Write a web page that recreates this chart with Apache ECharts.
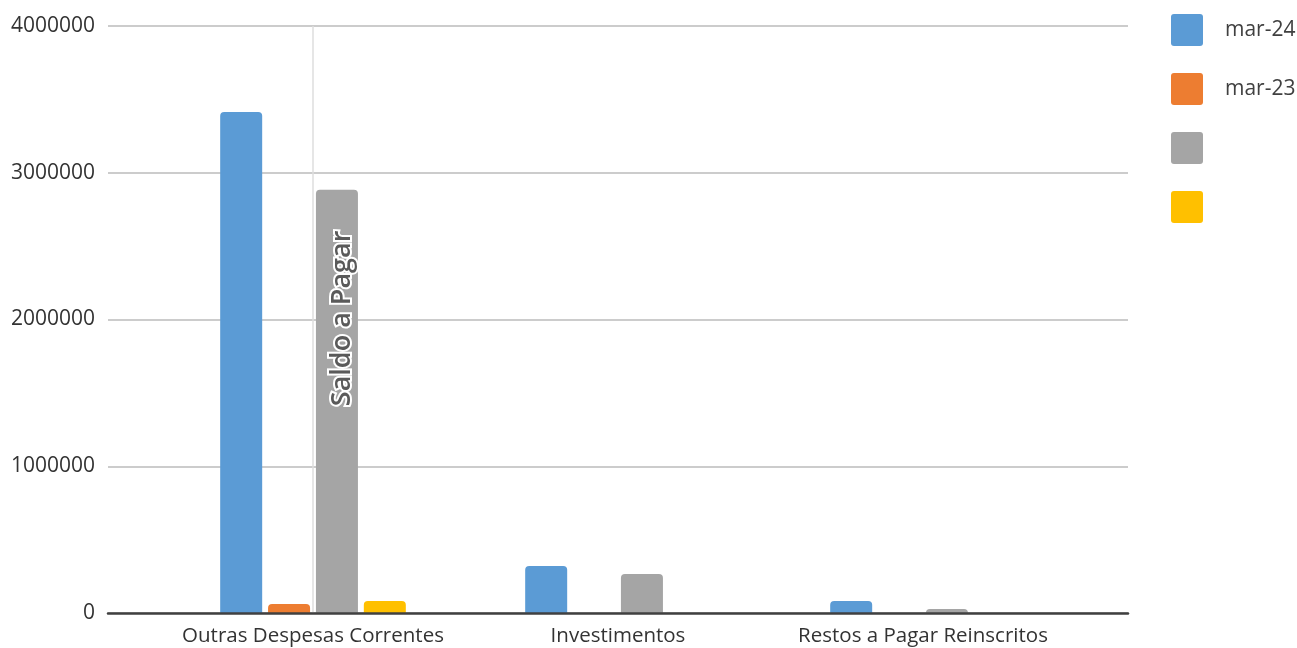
<!DOCTYPE html>
<html>
<head>
<meta charset="utf-8">
<script src="https://cdn.jsdelivr.net/npm/echarts@6/dist/echarts.min.js"></script>
<style>html,body{margin:0;padding:0;background:#fff}#c{width:1297px;height:648px}</style>
</head>
<body>
<div id="c"></div>
<script>
const categories = ['Outras Despesas Correntes', 'Investimentos', 'Restos a Pagar Reinscritos'];
const seriesNames = ['mar-24', 'mar-23', 'Saldo a Pagar', 'Outro'];
const mar24 = [3414000, 320000, 82000];
const mar23 = [61000, null, null];
const saldo = [2885000, 266000, 27000];
const outro = [82000, null, null];
const yTicks = [0, 1000000, 2000000, 3000000, 4000000];
const colors = ['#5B9BD5', '#ED7D31', '#A5A5A5', '#FFC000'];

const font = 'Open Sans';
const chart = echarts.init(document.getElementById('c'));
const barBase = {
  type: 'bar', xAxisIndex: 1, yAxisIndex: 1,
  barWidth: 42, barGap: '14%',
  emphasis: { disabled: true }, z: 3
};
const valuesList = [mar24, mar23, saldo, outro];
const series = seriesNames.map((n, i) => Object.assign({}, barBase, {
  name: n, data: valuesList[i], itemStyle: { color: colors[i], borderRadius: [4, 4, 0, 0] }
}));
series[2].data = saldo.map((v, i) => i === 0 ? {
  value: v,
  label: {
    show: true, position: 'insideTop', distance: 41, rotate: 90,
    align: 'right', verticalAlign: 'middle', offset: [0, 5],
    formatter: seriesNames[2], fontFamily: font, fontSize: 27, fontWeight: 600,
    color: '#5a5a5a', textBorderColor: '#ffffff', textBorderWidth: 4
  }
} : v);
series.push({
  type: 'line', xAxisIndex: 1, yAxisIndex: 1, data: [null, null, null],
  silent: true, z: 1, symbol: 'none',
  markLine: {
    silent: true, symbol: 'none', label: { show: false },
    lineStyle: { color: '#dedede', width: 1.5, type: 'solid' },
    data: [{ xAxis: categories[0] }]
  }
});
chart.setOption({
  animation: false,
  color: colors,
  textStyle: { fontFamily: font },
  legend: {
    orient: 'vertical', left: 1171, top: 14, padding: 0,
    itemWidth: 32, itemHeight: 32, itemGap: 27,
    icon: 'path://M3,0 H29 Q32,0 32,3 V29 Q32,32 29,32 H3 Q0,32 0,29 V3 Q0,0 3,0 Z',
    data: seriesNames,
    formatter: n => n.startsWith('mar') ? n : '',
    textStyle: { fontSize: 21, color: '#404040', fontFamily: font, padding: [0, 0, 6, 17] },
    selectedMode: false
  },
  grid: [
    { left: 108, right: 169, top: 26, bottom: 35 },
    { left: 160.5, right: 221.5, top: 26, bottom: 35 }
  ],
  xAxis: [
    { type: 'category', gridIndex: 0, data: [''], axisLabel: { show: false }, axisTick: { show: false },
      axisLine: { show: true, lineStyle: { color: '#404040', width: 2.5 } }, z: 5 },
    { type: 'category', gridIndex: 1, data: categories, axisTick: { show: false },
      axisLine: { show: false },
      axisLabel: { interval: 0, fontSize: 20.5, color: '#333333', fontFamily: font, margin: 13 } }
  ],
  yAxis: [
    { type: 'value', gridIndex: 0, min: 0, max: 4000000, interval: 1000000,
      axisLabel: { fontSize: 21, color: '#333333', fontFamily: font, margin: 13,
        formatter: v => yTicks.includes(v) ? String(v) : '' },
      splitLine: { lineStyle: { color: '#cccccc', width: 2 } },
      axisLine: { show: false }, axisTick: { show: false } },
    { type: 'value', gridIndex: 1, min: 0, max: 4000000, interval: 1000000, show: false,
      splitLine: { show: false } }
  ],
  series: series
});
</script>
</body>
</html>
